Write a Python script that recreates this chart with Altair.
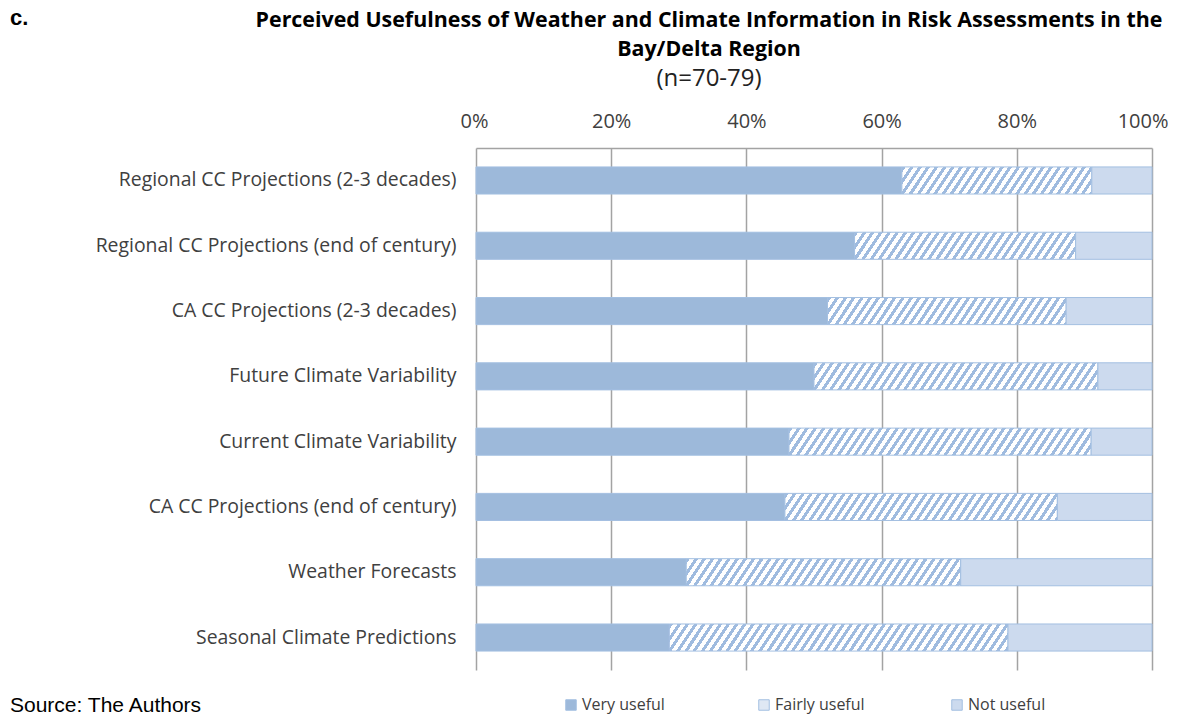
import math
import altair as alt
import pandas as pd

categories = [
    "Regional CC Projections (2-3 decades)",
    "Regional CC Projections (end of century)",
    "CA CC Projections (2-3 decades)",
    "Future Climate Variability",
    "Current Climate Variability ",
    "CA CC Projections (end of century)",
    "Weather Forecasts",
    "Seasonal Climate Predictions",
]
very_useful = [63.0, 56.0, 52.0, 50.0, 46.3, 45.7, 31.1, 28.6]
fairly_useful = [28.1, 32.7, 35.3, 42.0, 44.7, 40.3, 40.6, 50.1]
not_useful = [round(100 - v - f, 1) for v, f in zip(very_useful, fairly_useful)]
responses = ["Very useful", "Fairly useful", "Not useful"]
x_ticks = [0, 20, 40, 60, 80, 100]
title_lines = [
    "Perceived Usefulness of Weather and Climate Information in Risk Assessments in the",
    "Bay/Delta Region",
]
subtitle = "(n=70-79)"
panel_tag = "c."
source_text = "Source: The Authors"

PLOT_W = 676
PLOT_H = 522
BAR_H = 27.0
BLUE = "#9db9da"
STRIPE = "#9fbbdf"
LIGHT = "#ccdaee"
EDGE = "#a3bfe1"
FONT = "Open Sans"

rows = []
for i, c in enumerate(categories):
    for j, (r, vals) in enumerate(zip(responses, [very_useful, fairly_useful, not_useful])):
        rows.append({"cat": c, "idx": i, "response": r, "ord": j, "value": vals[i]})
df = pd.DataFrame(rows)


def hatch_gradient(pct, period=8.2, frac=0.45, k=1.5):
    w = pct / 100.0 * PLOT_W
    h = BAR_H
    b = h / (k * w)
    s = (1 + b) / (1 + b * b)
    total = w + h / k
    n = int(math.ceil(total / period))
    stops = []
    for j in range(n):
        o0 = min(1.0, j * period / total)
        o1 = min(1.0, (j + frac) * period / total)
        o2 = min(1.0, (j + 1) * period / total)
        stops += [
            {"offset": o0, "color": STRIPE},
            {"offset": o1, "color": STRIPE},
            {"offset": o1, "color": "#ffffff"},
            {"offset": o2, "color": "#ffffff"},
        ]
    return {"gradient": "linear", "x1": 0, "y1": 0, "x2": s, "y2": s * b, "stops": stops}


conditions = [
    {"test": f"datum.ord === 1 && datum.idx === {i}", "value": hatch_gradient(fairly_useful[i])}
    for i in range(len(categories))
]

bars = (
    alt.Chart(df)
    .mark_bar(stroke=EDGE, strokeWidth=1)
    .encode(
        x=alt.X(
            "value:Q",
            stack="zero",
            scale=alt.Scale(domain=[0, 100], nice=False),
            axis=alt.Axis(
                orient="top",
                values=x_ticks,
                labelExpr="datum.value + '%'",
                labelFlush=True,
                labelFlushOffset=16,
                grid=True,
                gridColor="#a3a3a3",
                gridWidth=1.5,
                ticks=False,
                domain=True,
                domainColor="#a3a3a3",
                domainWidth=1.5,
                labelPadding=17,
                labelFont=FONT,
                labelFontSize=20,
                labelColor="#404040",
                title=None,
            ),
        ),
        y=alt.Y(
            "cat:N",
            sort=categories,
            scale=alt.Scale(paddingInner=0.585, paddingOuter=0.29),
            axis=alt.Axis(
                domain=False,
                ticks=False,
                grid=False,
                labelPadding=20,
                labelFont=FONT,
                labelFontSize=19.4,
                labelColor="#404040",
                labelLimit=600,
                title=None,
            ),
        ),
        order=alt.Order("ord:Q"),
        fill={
            "field": "response",
            "type": "nominal",
            "sort": responses,
            "scale": {"domain": responses, "range": [BLUE, "#dfe8f4", LIGHT]},
            "legend": {
                "orient": "none",
                "legendX": 87,
                "legendY": 549,
                "direction": "horizontal",
                "title": None,
                "symbolType": "square",
                "symbolSize": 110,
                "symbolStrokeColor": EDGE,
                "symbolStrokeWidth": 1,
                "labelFont": FONT,
                "labelFontSize": 16,
                "labelColor": "#404040",
                "labelOffset": 3,
                "gridAlign": "all",
                "columnPadding": 84,
            },
            "condition": conditions,
        },
    )
)


def text_layer(txt, x, y, **kw):
    return (
        alt.Chart(pd.DataFrame({"t": [txt]}))
        .mark_text(**kw)
        .encode(x=alt.value(x), y=alt.value(y), text="t:N")
    )


layers = [
    bars,
    text_layer(title_lines[0], 233, -121, font=FONT, fontSize=21.4, fontWeight="bold",
               align="center", baseline="alphabetic", color="#000"),
    text_layer(title_lines[1], 233, -92, font=FONT, fontSize=21.4, fontWeight="bold",
               align="center", baseline="alphabetic", color="#000"),
    text_layer(subtitle, 233, -62, font=FONT, fontSize=24, align="center",
               baseline="alphabetic", color="#222"),
    text_layer(panel_tag, -466, -123, font="Liberation Sans", fontSize=22, fontWeight="bold",
               align="left", baseline="alphabetic", color="#000"),
    text_layer(source_text, -466, 564, font="Liberation Sans", fontSize=21, align="left",
               baseline="alphabetic", color="#000"),
]

chart = (
    alt.layer(*layers)
    .properties(
        width=PLOT_W,
        height=PLOT_H,
        padding={"left": 2, "top": -1, "right": 0, "bottom": 0},
    )
    .configure_view(stroke=None)
)

chart.save("out.html", embed_options={"renderer": "svg", "actions": False})
